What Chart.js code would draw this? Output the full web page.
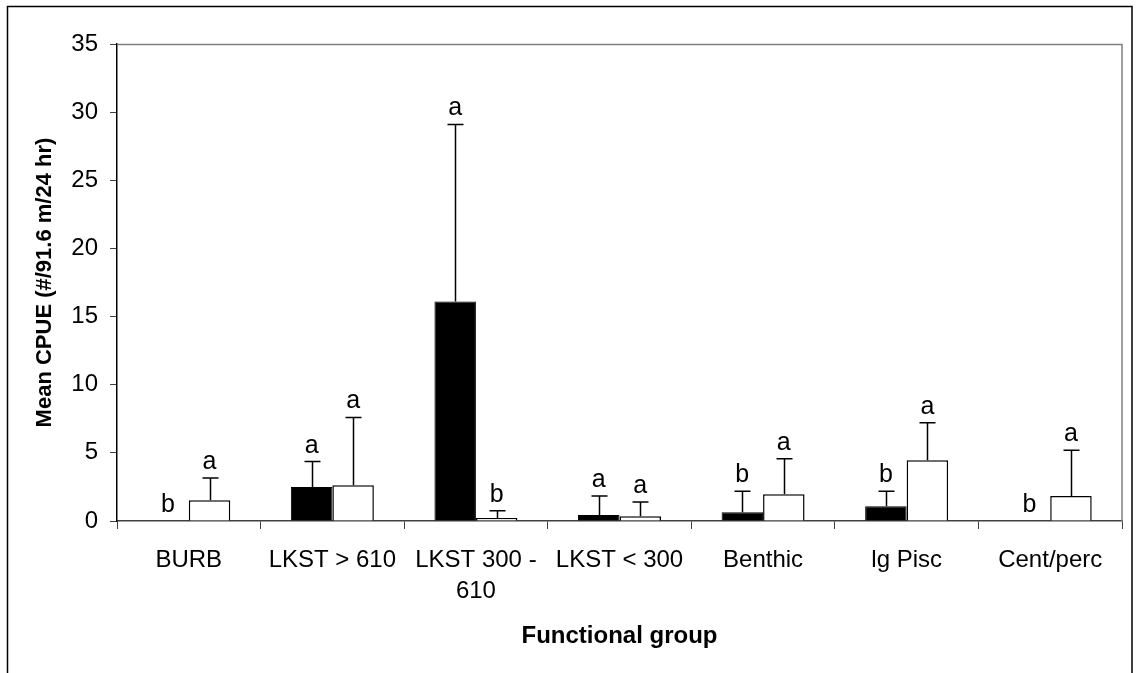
<!DOCTYPE html>
<html>
<head>
<meta charset="utf-8">
<script src="https://cdn.jsdelivr.net/npm/chart.js@4/dist/chart.umd.min.js"></script>
<style>
  html, body { margin: 0; padding: 0; background: #fff; }
  #wrap { width: 1138px; height: 673px; position: relative; }
</style>
</head>
<body>
<div id="wrap"><canvas id="cpue"></canvas></div>
<script>
// Functional groups along the x axis
const categories = ['BURB', 'LKST > 610', ['LKST 300 -', '610'], 'LKST < 300', 'Benthic', 'lg Pisc', 'Cent/perc'];

// Mean CPUE (#/91.6 m/24 hr) for the filled and open series
const filledMeans = [0, 2.5, 16.1, 0.44, 0.64, 1.08, 0];
const openMeans   = [1.52, 2.62, 0.22, 0.35, 1.96, 4.46, 1.84];

// Upper error bar lengths (one-sided SD)
const filledSD = [0, 1.86, 13.0, 1.40, 1.54, 1.10, 0];
const openSD   = [1.64, 4.98, 0.54, 1.05, 2.60, 2.74, 3.36];

// Significance letters above each bar
const filledLetters = ['b', 'a', 'a', 'a', 'b', 'b', 'b'];
const openLetters   = ['a', 'a', 'b', 'a', 'a', 'a', 'a'];

// y axis range
const yMin = 0, yMax = 35, yStep = 5;

const FONT = '"Liberation Sans", Arial, Helvetica, sans-serif';
Chart.defaults.font.family = FONT;
Chart.defaults.color = '#000';

const errorBars = {
  id: 'errorBars',
  afterDatasetsDraw(chart) {
    const ctx = chart.ctx;
    const y = chart.scales.y;
    const sds = [filledSD, openSD];
    const means = [filledMeans, openMeans];
    const letters = [filledLetters, openLetters];
    ctx.save();
    ctx.strokeStyle = '#000';
    ctx.lineWidth = 1.5;
    ctx.fillStyle = '#000';
    ctx.font = '25px ' + FONT;
    ctx.textAlign = 'center';
    ctx.textBaseline = 'alphabetic';
    sds.forEach((sd, d) => {
      const meta = chart.getDatasetMeta(d);
      meta.data.forEach((bar, i) => {
        const top = means[d][i] + sd[i];
        const yTop = y.getPixelForValue(top);
        if (sd[i] > 0) {
          const x = Math.round(bar.x) + 0.5;
          ctx.beginPath();
          ctx.moveTo(x, bar.y);
          ctx.lineTo(x, yTop);
          ctx.moveTo(x - 8, yTop);
          ctx.lineTo(x + 8, yTop);
          ctx.stroke();
        }
        ctx.fillText(letters[d][i], bar.x, yTop - 9);
      });
    });
    ctx.restore();
  }
};

const frame = {
  id: 'frame',
  afterDraw(chart) {
    const ctx = chart.ctx;
    const a = chart.chartArea;
    ctx.save();
    // plot area outline on the top and right
    ctx.strokeStyle = '#808080';
    ctx.lineWidth = 1.5;
    ctx.beginPath();
    ctx.moveTo(a.left, Math.round(a.top) + 0.5);
    ctx.lineTo(a.right, Math.round(a.top) + 0.5);
    ctx.lineTo(a.right, a.bottom);
    ctx.stroke();
    // outer chart border
    ctx.strokeStyle = '#000';
    ctx.lineWidth = 1.5;
    ctx.strokeRect(7.5, 6.5, 1124.5, 700);
    ctx.restore();
  }
};

new Chart(document.getElementById('cpue'), {
  type: 'bar',
  data: {
    labels: categories,
    datasets: [
      {
        label: 'filled',
        data: filledMeans,
        backgroundColor: '#000',
        borderColor: '#000',
        borderWidth: 1,
        barPercentage: 1,
        categoryPercentage: 0.578
      },
      {
        label: 'open',
        data: openMeans,
        backgroundColor: '#fff',
        borderColor: '#000',
        borderWidth: 1.5,
        barPercentage: 1,
        categoryPercentage: 0.578
      }
    ]
  },
  options: {
    responsive: true,
    maintainAspectRatio: false,
    animation: false,
    layout: { padding: { left: 28, top: 44, right: 16, bottom: 19 } },
    plugins: { legend: { display: false }, tooltip: { enabled: false } },
    scales: {
      x: {
        grid: { offset: true, drawOnChartArea: false, drawTicks: true, tickLength: 8, color: '#404040', lineWidth: 1 },
        border: { color: '#404040', width: 1.5 },
        ticks: { color: '#000', font: { size: 24, lineHeight: 1.3 }, padding: 16, maxRotation: 0, autoSkip: false },
        title: { display: true, text: 'Functional group', color: '#000', font: { size: 24, weight: 'bold', lineHeight: 1.1 }, padding: { top: 4, bottom: 4 } },
        afterFit(s) { s.height = 133; }
      },
      y: {
        min: yMin,
        max: yMax,
        grid: { drawOnChartArea: false, drawTicks: true, tickLength: 7, color: '#404040' },
        border: { color: '#000', width: 1.5 },
        ticks: { stepSize: yStep, color: '#000', font: { size: 24 }, padding: 12 },
        title: { display: true, text: 'Mean CPUE (#/91.6 m/24 hr)', color: '#000', font: { size: 22, weight: 'bold' }, padding: { top: 4, bottom: 4 } },
        afterFit(s) { s.width = 89; }
      }
    }
  },
  plugins: [errorBars, frame]
});
</script>
</body>
</html>
